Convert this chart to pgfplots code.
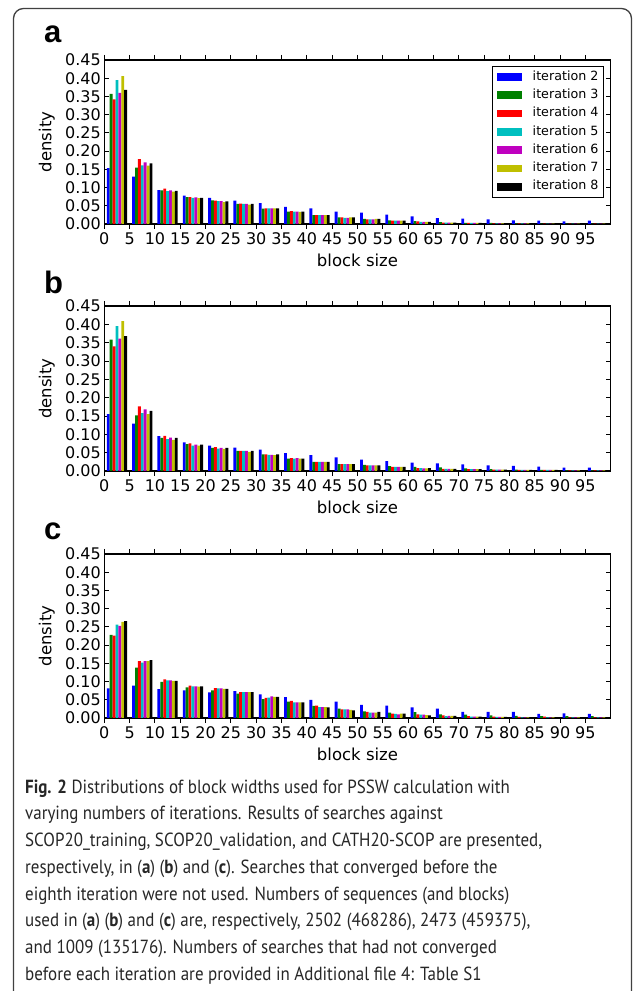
\documentclass[border=0pt]{standalone}
\usepackage{fontspec}
\usepackage{pgfplots}
\pgfplotsset{compat=1.18}
\usepackage{pgfplotstable}
\newfontfamily\mpl{DejaVu Sans}
\newfontfamily\lettf{Liberation Sans}
\newfontfamily\capf[FakeStretch=0.893]{PT Sans}
\definecolor{mblue}{rgb}{0,0,1}
\definecolor{mgreen}{rgb}{0,0.5,0}
\definecolor{mred}{rgb}{1,0,0}
\definecolor{mcyan}{rgb}{0,0.75,0.75}
\definecolor{mmag}{rgb}{0.75,0,0.75}
\definecolor{myel}{rgb}{0.75,0.75,0}
\definecolor{mblack}{rgb}{0,0,0}

\pgfplotstableread{
x s2 s3 s4 s5 s6 s7 s8
2.5  0.153 0.357 0.342 0.395 0.360 0.406 0.368
7.5  0.130 0.155 0.178 0.161 0.169 0.160 0.166
12.5 0.093 0.092 0.097 0.090 0.092 0.089 0.091
17.5 0.078 0.074 0.074 0.072 0.073 0.071 0.072
22.5 0.072 0.065 0.064 0.063 0.063 0.060 0.062
27.5 0.064 0.055 0.056 0.055 0.055 0.053 0.055
32.5 0.057 0.042 0.043 0.043 0.043 0.043 0.043
37.5 0.047 0.034 0.035 0.034 0.034 0.033 0.034
42.5 0.043 0.024 0.024 0.024 0.024 0.024 0.024
47.5 0.034 0.018 0.018 0.017 0.017 0.018 0.018
52.5 0.031 0.014 0.013 0.013 0.013 0.014 0.014
57.5 0.026 0.010 0.009 0.009 0.009 0.009 0.009
62.5 0.021 0.008 0.007 0.006 0.006 0.006 0.006
67.5 0.016 0.005 0.004 0.004 0.004 0.004 0.004
72.5 0.015 0.003 0.003 0.003 0.003 0.003 0.003
77.5 0.013 0.003 0.002 0.002 0.002 0.002 0.002
82.5 0.010 0.002 0.002 0.002 0.002 0.002 0.002
87.5 0.009 0.001 0.001 0.001 0.001 0.001 0.001
92.5 0.007 0.001 0.001 0.001 0.001 0.001 0.001
97.5 0.009 0.001 0.001 0.001 0.001 0.001 0.001
}\tabA

\pgfplotstableread{
x s2 s3 s4 s5 s6 s7 s8
2.5  0.155 0.358 0.340 0.395 0.361 0.409 0.368
7.5  0.129 0.152 0.176 0.158 0.168 0.155 0.164
12.5 0.095 0.090 0.096 0.087 0.091 0.085 0.090
17.5 0.078 0.073 0.075 0.069 0.072 0.069 0.072
22.5 0.069 0.063 0.065 0.061 0.063 0.060 0.063
27.5 0.064 0.055 0.055 0.055 0.055 0.052 0.055
32.5 0.058 0.045 0.045 0.044 0.044 0.043 0.045
37.5 0.049 0.034 0.035 0.034 0.035 0.034 0.034
42.5 0.043 0.025 0.025 0.025 0.025 0.025 0.025
47.5 0.037 0.019 0.019 0.019 0.019 0.019 0.019
52.5 0.031 0.017 0.015 0.015 0.015 0.015 0.015
57.5 0.027 0.013 0.011 0.011 0.011 0.011 0.011
62.5 0.023 0.011 0.008 0.008 0.007 0.007 0.008
67.5 0.021 0.010 0.006 0.006 0.006 0.006 0.006
72.5 0.018 0.007 0.005 0.005 0.005 0.005 0.005
77.5 0.015 0.005 0.004 0.004 0.004 0.004 0.004
82.5 0.014 0.004 0.003 0.003 0.003 0.003 0.003
87.5 0.012 0.003 0.003 0.003 0.003 0.003 0.003
92.5 0.009 0.002 0.002 0.002 0.002 0.002 0.002
97.5 0.009 0.002 0.002 0.002 0.002 0.002 0.002
}\tabB

\pgfplotstableread{
x s2 s3 s4 s5 s6 s7 s8
2.5  0.081 0.228 0.226 0.256 0.253 0.264 0.266
7.5  0.089 0.138 0.156 0.152 0.156 0.156 0.159
12.5 0.079 0.099 0.106 0.103 0.103 0.102 0.102
17.5 0.076 0.084 0.089 0.087 0.087 0.086 0.087
22.5 0.070 0.076 0.082 0.081 0.081 0.080 0.080
27.5 0.074 0.067 0.071 0.071 0.071 0.071 0.071
32.5 0.065 0.052 0.055 0.056 0.059 0.058 0.058
37.5 0.057 0.045 0.047 0.043 0.043 0.043 0.043
42.5 0.050 0.033 0.034 0.030 0.030 0.030 0.029
47.5 0.045 0.026 0.024 0.024 0.024 0.022 0.021
52.5 0.036 0.018 0.017 0.015 0.015 0.015 0.017
57.5 0.034 0.015 0.012 0.011 0.010 0.012 0.012
62.5 0.029 0.016 0.010 0.009 0.009 0.008 0.007
67.5 0.026 0.010 0.007 0.005 0.006 0.006 0.006
72.5 0.017 0.009 0.005 0.004 0.004 0.004 0.004
77.5 0.017 0.007 0.004 0.003 0.003 0.003 0.003
82.5 0.017 0.006 0.003 0.002 0.002 0.002 0.002
87.5 0.011 0.005 0.004 0.002 0.002 0.002 0.002
92.5 0.013 0.005 0.002 0.002 0.002 0.002 0.002
97.5 0.011 0.005 0.002 0.002 0.002 0.002 0.002
}\tabC

\pgfplotsset{
  legimg/.style={legend image code/.code={\fill[##1] (0pt,-3.8pt) rectangle (24.7pt,3.8pt);}},
  s2/.style={fill=mblue, draw=none, bar shift=-1.7143, legimg},
  s3/.style={fill=mgreen, draw=none, bar shift=-1.1429, legimg},
  s4/.style={fill=mred, draw=none, bar shift=-0.5714, legimg},
  s5/.style={fill=mcyan, draw=none, bar shift=0, legimg},
  s6/.style={fill=mmag, draw=none, bar shift=0.5714, legimg},
  s7/.style={fill=myel, draw=none, bar shift=1.1429, legimg},
  s8/.style={fill=mblack, draw=none, bar shift=1.7143, legimg},
  panel/.style={
    scale only axis, width=506.4pt, height=164pt,
    anchor=south west,
    xmin=0, xmax=100, ymin=0, ymax=0.45,
    xtick={0,5,...,95},
    ytick={0,0.05,0.1,0.15,0.2,0.25,0.3,0.35,0.4,0.45},
    tick align=inside, major tick length=5pt,
    every tick/.style={black, line width=0.9pt},
    axis line style={line width=1.1pt, black},
    ticklabel style={font=\mpl\fontsize{16}{16}\selectfont},
    yticklabel style={/pgf/number format/.cd, fixed, fixed zerofill, precision=2},
    /pgf/number format/assume math mode=true,
    scaled y ticks=false,
    xlabel={block size}, ylabel={density},
    every axis x label/.style={at={(axis description cs:0.5,0)}, yshift=-36pt, anchor=center, font=\mpl\fontsize{16.5}{16.5}\selectfont},
    every axis y label/.style={at={(axis description cs:-0.1135,0.5)}, rotate=90, anchor=center, font=\mpl\fontsize{16.5}{16.5}\selectfont},
    ybar=0pt, bar width=0.5714,
  }
}

\begin{document}
\begin{tikzpicture}
\useasboundingbox (0pt,0pt) rectangle (633pt,991pt);
\draw[line width=1.3pt, black!75, rounded corners=10pt] (13.5pt,-5pt) -- (13.5pt,982.5pt) -- (631.5pt,982.5pt) -- (631.5pt,-5pt);

% panel a
\begin{axis}[panel, at={(104.3pt,767pt)},
  legend style={at={(rel axis cs:1,1)}, xshift=-6.7pt, yshift=-5.7pt, anchor=north east,
    draw=black, line width=1pt, inner xsep=5pt, inner ysep=5pt,
    font=\mpl\fontsize{12.7}{12.7}\selectfont, row sep=6.8pt, column sep=11pt,
    nodes={inner sep=0pt, text height=9pt, text depth=2.5pt}},
  legend cell align=left]
\addplot[s2] table[x=x,y=s2]{\tabA};
\addplot[s3] table[x=x,y=s3]{\tabA};
\addplot[s4] table[x=x,y=s4]{\tabA};
\addplot[s5] table[x=x,y=s5]{\tabA};
\addplot[s6] table[x=x,y=s6]{\tabA};
\addplot[s7] table[x=x,y=s7]{\tabA};
\addplot[s8] table[x=x,y=s8]{\tabA};
\legend{iteration 2,iteration 3,iteration 4,iteration 5,iteration 6,iteration 7,iteration 8}
\end{axis}

% panel b
\begin{axis}[panel, height=165pt, at={(104.3pt,520pt)}]
\addplot[s2] table[x=x,y=s2]{\tabB};
\addplot[s3] table[x=x,y=s3]{\tabB};
\addplot[s4] table[x=x,y=s4]{\tabB};
\addplot[s5] table[x=x,y=s5]{\tabB};
\addplot[s6] table[x=x,y=s6]{\tabB};
\addplot[s7] table[x=x,y=s7]{\tabB};
\addplot[s8] table[x=x,y=s8]{\tabB};
\end{axis}

% panel c
\begin{axis}[panel, at={(104.3pt,273pt)}]
\addplot[s2] table[x=x,y=s2]{\tabC};
\addplot[s3] table[x=x,y=s3]{\tabC};
\addplot[s4] table[x=x,y=s4]{\tabC};
\addplot[s5] table[x=x,y=s5]{\tabC};
\addplot[s6] table[x=x,y=s6]{\tabC};
\addplot[s7] table[x=x,y=s7]{\tabC};
\addplot[s8] table[x=x,y=s8]{\tabC};
\end{axis}

\node[anchor=base west, inner sep=0pt, font=\lettf\bfseries\fontsize{31}{31}\selectfont] at (44pt,948.3pt) {a};
\node[anchor=base west, inner sep=0pt, font=\lettf\bfseries\fontsize{31}{31}\selectfont] at (44pt,697pt) {b};
\node[anchor=base west, inner sep=0pt, font=\lettf\bfseries\fontsize{31}{31}\selectfont] at (44pt,451.7pt) {c};

\begin{scope}[every node/.style={anchor=base west, inner sep=0pt, text=black!85, font=\capf\fontsize{19}{19}\selectfont}]
\node at (25pt,197.7pt) {\textbf{Fig. 2} Distributions of block widths used for PSSW calculation with};
\node at (25pt,171pt) {varying numbers of iterations. Results of searches against};
\node at (25pt,144.3pt) {SCOP20\_training, SCOP20\_validation, and CATH20-SCOP are presented,};
\node at (25pt,117.6pt) {respectively, in (\textbf{a}) (\textbf{b}) and (\textbf{c}). Searches that converged before the};
\node at (25pt,90.9pt) {eighth iteration were not used. Numbers of sequences (and blocks)};
\node at (25pt,64.2pt) {used in (\textbf{a}) (\textbf{b}) and (\textbf{c}) are, respectively, 2502 (468286), 2473 (459375),};
\node at (25pt,37.5pt) {and 1009 (135176). Numbers of searches that had not converged};
\node at (25pt,10.8pt) {before each iteration are provided in Additional file 4: Table S1};
\end{scope}
\end{tikzpicture}
\end{document}
